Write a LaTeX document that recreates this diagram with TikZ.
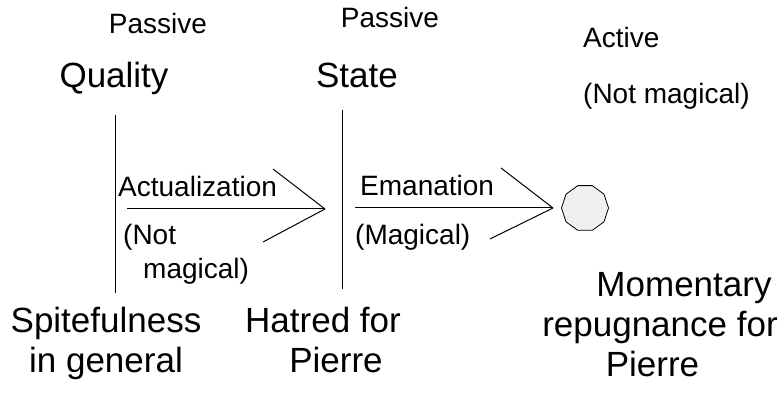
\documentclass[tikz,border=0pt]{standalone}
\usepackage{fontspec}
\setmainfont{Liberation Sans}
\usepackage{tikz}
\usetikzlibrary{shapes.geometric, arrows}
\tikzstyle{small} = [inner sep=0pt, anchor=base, font=\fontsize{28}{33}\selectfont]
\tikzstyle{big} = [inner sep=0pt, anchor=base, align=center, font=\fontsize{35}{40}\selectfont]
\tikzstyle{bar} = [line width=1pt]
\tikzstyle{wing} = [line width=1pt]
\tikzstyle{goal} = [regular polygon, regular polygon sides=10, minimum size=47pt, inner sep=0pt, draw=black, fill=gray!12, line width=0.8pt]

\begin{document}
\begin{tikzpicture}[x=1pt, y=-1pt]
        \useasboundingbox (0,0) rectangle (782,406);
        % headings
        \node (passq) [small] at (158,34) {Passive};
        \node (quality) [big] at (114,88) {Quality};
        \node (passs) [small] at (390,28) {Passive};
        \node (state) [big] at (357,88) {State};
        \node (active) [small, anchor=base west] at (583,48) {Active};
        \node (notmagr) [small, anchor=base west] at (583,104) {(Not magical)};
        % bars
        \coordinate (qtop) at (115,115);
        \coordinate (qbot) at (115,293);
        \coordinate (stop) at (342,110);
        \coordinate (sbot) at (342,289);
        \draw [bar] (qtop) -- (qbot);
        \draw [bar] (stop) -- (sbot);
        % actualization
        \coordinate (acts) at (127,209);
        \coordinate (actt) at (325,209);
        \coordinate (actu) at (273,169);
        \coordinate (actd) at (263,242);
        \draw [wing] (acts) -- (actt);
        \draw [wing] (actu) -- (actt);
        \draw [wing] (actd) -- (actt);
        \node (actl) [small, anchor=base west] at (118,197) {Actualization};
        \node (notmagl) [small, anchor=base west, align=left] at (123,278) {(Not\\\hspace*{20pt}magical)};
        % emanation
        \coordinate (emas) at (355,208);
        \coordinate (emat) at (553,208);
        \coordinate (emau) at (501,168);
        \coordinate (emad) at (490,239);
        \draw [wing] (emas) -- (emat);
        \draw [wing] (emau) -- (emat);
        \draw [wing] (emad) -- (emat);
        \node (emal) [small, anchor=base west] at (360,196) {Emanation};
        \node (magl) [small, anchor=base west] at (355,244) {(Magical)};
        \node (repug) [goal] at (585,208) {};
        % bottom labels
        \node (spite) [big] at (106,372) {Spitefulness\\in general};
        \node (hatred) [big] at (323,372) {Hatred for\\\hspace*{26pt}Pierre};
        \node (moment) [big] at (660,376) {\hspace*{48pt}Momentary\\repugnance for\\Pierre\hspace*{15pt}};
\end{tikzpicture}
\end{document}
